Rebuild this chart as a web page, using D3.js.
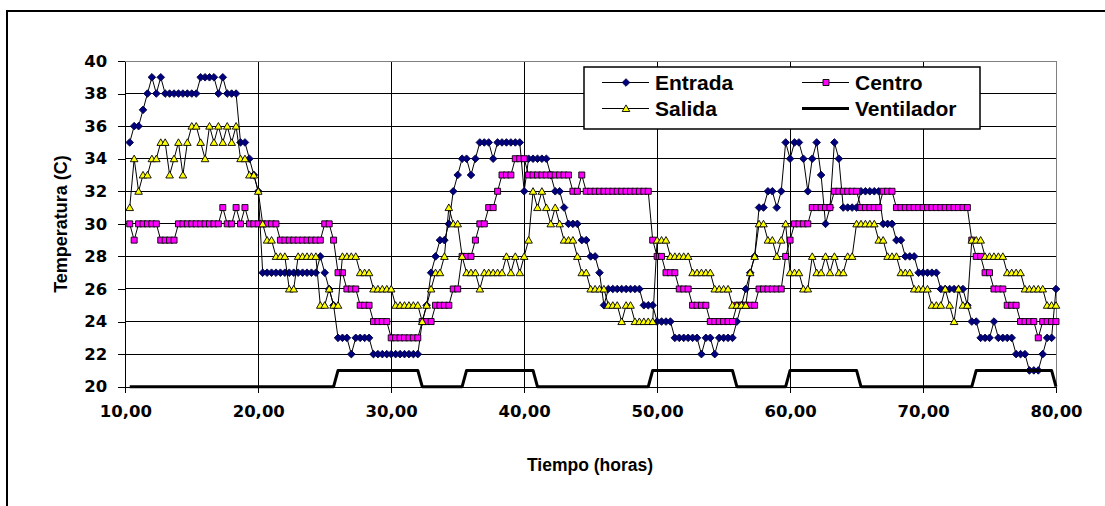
<!DOCTYPE html>
<html>
<head>
<meta charset="utf-8">
<script src="https://cdn.jsdelivr.net/npm/d3@7"></script>
<style>
body { margin: 0; background: #fff; }
svg { display: block; }
</style>
</head>
<body>
<svg width="1105" height="506"></svg>
<script>
// lecturas cada 20 minutos, desde las 10,33 h hasta las 80,00 h
var entrada = [
  35,36,36,37,38,39,38,39,38,38,
  38,38,38,38,38,38,39,39,39,39,
  38,39,38,38,38,35,35,34,33,32,
  27,27,27,27,27,27,27,27,27,27,
  27,27,27,28,27,26,25,23,23,23,
  22,23,23,23,23,22,22,22,22,22,
  22,22,22,22,22,22,24,25,27,28,
  29,29,30,32,33,34,34,33,34,35,
  35,35,34,35,35,35,35,35,35,32,
  34,34,34,34,34,33,32,32,31,30,
  30,30,29,29,28,28,27,25,26,26,
  26,26,26,26,26,26,25,25,25,24,
  24,24,24,23,23,23,23,23,23,22,
  23,23,22,23,23,23,23,24,25,26,
  27,28,31,31,32,32,31,32,35,34,
  35,35,34,32,34,35,33,30,31,35,
  34,31,31,31,31,32,32,32,32,32,
  30,30,30,29,29,28,28,28,27,27,
  27,27,27,26,26,26,26,26,26,25,
  24,24,23,23,23,24,23,23,23,23,
  22,22,22,21,21,21,22,23,23,26
];
var centro = [
  30,29,30,30,30,30,30,29,29,29,
  29,30,30,30,30,30,30,30,30,30,
  30,31,30,30,31,30,31,30,30,30,
  30,30,30,30,29,29,29,29,29,29,
  29,29,29,29,30,30,29,27,27,26,
  26,26,25,25,25,24,24,24,24,23,
  23,23,23,23,23,23,24,24,24,25,
  25,25,25,26,26,28,28,28,29,30,
  30,31,31,32,33,33,33,34,34,34,
  33,33,33,33,33,33,33,33,33,33,
  32,32,33,32,32,32,32,32,32,32,
  32,32,32,32,32,32,32,32,29,28,
  28,27,27,27,26,26,26,25,25,25,
  25,24,24,24,24,24,24,25,25,25,
  25,25,26,26,26,26,26,26,28,29,
  30,30,30,30,31,31,31,31,31,32,
  32,32,32,32,32,31,31,31,31,31,
  32,32,32,31,31,31,31,31,31,31,
  31,31,31,31,31,31,31,31,31,31,
  29,28,28,27,27,26,26,26,25,25,
  25,24,24,24,24,23,24,24,24,24
];
var salida = [
  31,34,32,33,33,34,34,35,35,33,
  34,35,33,35,36,36,35,34,36,35,
  36,35,36,35,36,34,34,33,33,32,
  30,29,29,28,28,28,26,26,28,28,
  28,28,28,25,25,26,25,25,28,28,
  28,28,27,27,27,26,26,26,26,26,
  25,25,25,25,25,25,24,25,26,27,
  27,28,31,30,30,28,27,27,27,26,
  27,27,27,27,27,28,27,28,27,28,
  29,32,31,32,31,30,31,30,29,29,
  29,28,27,27,26,26,26,26,25,25,
  25,24,25,25,24,24,24,24,24,29,
  29,29,28,28,28,28,28,27,27,27,
  27,27,26,26,26,26,25,25,25,25,
  27,28,30,30,29,29,28,29,30,27,
  27,27,26,26,28,27,27,28,27,28,
  27,27,28,28,30,30,30,30,30,29,
  29,28,28,28,27,27,27,26,26,26,
  26,25,25,25,26,25,24,26,25,25,
  29,29,29,28,28,28,28,28,27,27,
  27,27,26,26,26,26,26,25,25,25
];
var ventilador = [
  20,20,20,20,20,20,20,20,20,20,
  20,20,20,20,20,20,20,20,20,20,
  20,20,20,20,20,20,20,20,20,20,
  20,20,20,20,20,20,20,20,20,20,
  20,20,20,20,20,20,20,21,21,21,
  21,21,21,21,21,21,21,21,21,21,
  21,21,21,21,21,21,20,20,20,20,
  20,20,20,20,20,20,21,21,21,21,
  21,21,21,21,21,21,21,21,21,21,
  21,21,20,20,20,20,20,20,20,20,
  20,20,20,20,20,20,20,20,20,20,
  20,20,20,20,20,20,20,20,21,21,
  21,21,21,21,21,21,21,21,21,21,
  21,21,21,21,21,21,21,20,20,20,
  20,20,20,20,20,20,20,20,20,21,
  21,21,21,21,21,21,21,21,21,21,
  21,21,21,21,21,20,20,20,20,20,
  20,20,20,20,20,20,20,20,20,20,
  20,20,20,20,20,20,20,20,20,20,
  20,21,21,21,21,21,21,21,21,21,
  21,21,21,21,21,21,21,21,21,20
];
var xTicks = [10, 20, 30, 40, 50, 60, 70, 80];
var yTicks = [20, 22, 24, 26, 28, 30, 32, 34, 36, 38, 40];
var nombres = ["Entrada", "Centro", "Salida", "Ventilador"];

var horas = entrada.map(function(d, i) { return 10 + (i + 1) / 3; });

var svg = d3.select("svg");

var x = d3.scaleLinear().domain([10, 80]).range([125.3, 1056]);
var y = d3.scaleLinear().domain([20, 40]).range([386.7, 61]);

// marco del grafico
svg.append("rect")
    .attr("x", 7).attr("y", 11)
    .attr("width", 1120).attr("height", 520)
    .attr("fill", "#fff")
    .attr("stroke", "#000")
    .attr("stroke-width", 2);

// rejilla
var grid = svg.append("g").attr("shape-rendering", "crispEdges");
grid.selectAll("line.h")
    .data(yTicks.filter(function(d) { return d > 20 && d < 40; }))
    .enter().append("line")
    .attr("x1", x(10)).attr("x2", x(80))
    .attr("y1", function(d) { return y(d); })
    .attr("y2", function(d) { return y(d); })
    .attr("stroke", "#000");
grid.selectAll("line.v")
    .data(xTicks.filter(function(d) { return d > 10 && d < 80; }))
    .enter().append("line")
    .attr("y1", y(40)).attr("y2", y(20))
    .attr("x1", function(d) { return x(d); })
    .attr("x2", function(d) { return x(d); })
    .attr("stroke", "#000");
grid.append("path")
    .attr("d", "M" + x(10) + "," + y(40) + "H" + x(80) + "V" + y(20))
    .attr("fill", "none")
    .attr("stroke", "#808080");

// ejes
var coma = function(d) { return d3.format(".2f")(d).replace(".", ","); };

var ejeY = svg.append("g")
    .attr("transform", "translate(" + x(10) + ",0)")
    .call(d3.axisLeft(y).tickValues(yTicks).tickSize(7).tickSizeOuter(0)
        .tickPadding(11).tickFormat(d3.format("d")));

var ejeX = svg.append("g")
    .attr("transform", "translate(0," + y(20) + ")")
    .call(d3.axisBottom(x).tickValues(xTicks).tickSize(6).tickSizeOuter(0)
        .tickPadding(13).tickFormat(coma));

[ejeY, ejeX].forEach(function(g) {
    g.attr("shape-rendering", "crispEdges");
    g.selectAll("path, line").attr("stroke", "#000");
    g.selectAll("text")
        .attr("fill", "#000")
        .style("font-family", "'DejaVu Sans', sans-serif")
        .style("font-weight", "bold")
        .style("font-size", "16.5px");
});

// titulos
svg.append("text")
    .attr("transform", "translate(67,224) rotate(-90)")
    .attr("text-anchor", "middle")
    .style("font-family", "'Liberation Sans', Arial, sans-serif")
    .style("font-weight", "bold")
    .style("font-size", "18px")
    .text("Temperatura (C)");

svg.append("text")
    .attr("x", 590).attr("y", 471)
    .attr("text-anchor", "middle")
    .style("font-family", "'Liberation Sans', Arial, sans-serif")
    .style("font-weight", "bold")
    .style("font-size", "17.5px")
    .text("Tiempo (horas)");

// marcadores
var rombo = "M0,-3.8L3.8,0L0,3.8L-3.8,0Z";
var triangulo = "M0,-3.6L3.8,3L-3.8,3Z";
var cuadro = "M-3,-3H3V3H-3Z";

var estilos = {
    Entrada: { datos: entrada, marca: rombo, relleno: "#000080", borde: "#000040" },
    Centro: { datos: centro, marca: cuadro, relleno: "#ff00ff", borde: "#000" },
    Salida: { datos: salida, marca: triangulo, relleno: "#ffff00", borde: "#000" },
    Ventilador: { datos: ventilador, marca: null }
};

var linea = d3.line()
    .x(function(d, i) { return x(horas[i]); })
    .y(function(d) { return y(d); });

var series = svg.append("g");
nombres.forEach(function(n) {
    var s = estilos[n];
    series.append("path")
        .attr("d", linea(s.datos))
        .attr("fill", "none")
        .attr("stroke", "#000")
        .attr("stroke-width", s.marca ? 1 : 3)
        .attr("stroke-linejoin", "round");
    if (s.marca) {
        series.append("g").selectAll("path")
            .data(s.datos)
            .enter().append("path")
            .attr("d", s.marca)
            .attr("transform", function(d, i) { return "translate(" + x(horas[i]) + "," + y(d) + ")"; })
            .attr("fill", s.relleno)
            .attr("stroke", s.borde)
            .attr("stroke-width", 0.9);
    }
});

// leyenda
var leyenda = svg.append("g");
leyenda.append("rect")
    .attr("x", 584).attr("y", 67)
    .attr("width", 396).attr("height", 62)
    .attr("fill", "#fff")
    .attr("stroke", "#000")
    .attr("stroke-width", 1.5);

var posLeyenda = {
    Entrada: [602, 82.5],
    Centro: [802, 82.5],
    Salida: [602, 108.5],
    Ventilador: [802, 108.5]
};

nombres.forEach(function(n) {
    var p = posLeyenda[n], s = estilos[n];
    leyenda.append("line")
        .attr("x1", p[0]).attr("x2", p[0] + 47)
        .attr("y1", p[1]).attr("y2", p[1])
        .attr("stroke", "#000")
        .attr("stroke-width", s.marca ? 1 : 3);
    if (s.marca) {
        leyenda.append("path")
            .attr("d", s.marca)
            .attr("transform", "translate(" + (p[0] + 24) + "," + p[1] + ")")
            .attr("fill", s.relleno)
            .attr("stroke", s.borde)
            .attr("stroke-width", 0.9);
    }
    leyenda.append("text")
        .attr("x", p[0] + 53).attr("y", p[1] + 7.5)
        .style("font-family", "'Liberation Sans', Arial, sans-serif")
        .style("font-weight", "bold")
        .style("font-size", "21px")
        .text(n);
});
</script>
</body>
</html>
